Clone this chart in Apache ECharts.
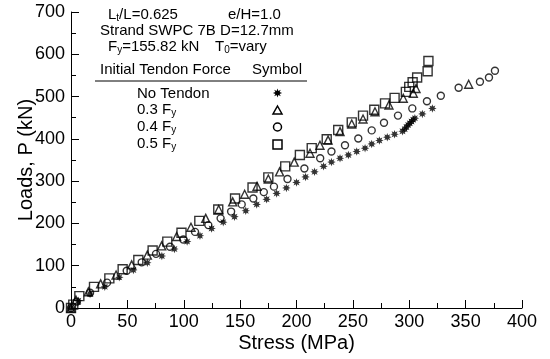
<!DOCTYPE html>
<html>
<head>
<meta charset="utf-8">
<script src="https://cdn.jsdelivr.net/npm/echarts@6/dist/echarts.min.js"></script>
<style>
html,body{margin:0;padding:0;background:#fff;}
#chart{width:550px;height:359px;}
</style>
</head>
<body>
<div id="chart"></div>
<script>
// ---- Data (Stress MPa, Load kN) ----
var noTendon = [[0,0],[6.5,17],[16.9,33],[30,50],[42.8,72.5],[55.3,90],[67.7,107],[80.6,123],[91.7,139.5],[103,157],[114.4,171],[124.7,188],[135,203],[145,216],[155,230],[164.7,245],[173.5,257],[182.4,271],[191,284],[200,297],[208,310],[216,322],[224,335],[231,345],[238.6,354],[246,362],[253.4,370],[260.8,378],[266.7,388],[273.5,396],[280.5,404],[287,411],[294,418],[296,423],[297.5,428],[299,433],[300.5,437],[302,441],[303.5,445],[305,449],[311.6,459],[320.5,472]];
var f03 = [[0,0],[4.4,19],[15.4,38.5],[26.3,57],[40,78],[53.8,102],[67.7,125],[80.4,147],[93.7,169],[106.4,191],[119.5,212],[131,233],[143.4,251],[154,269],[165,288],[175,305],[185,322],[198,345],[212,366],[220.8,385],[228,397],[238.6,417],[249,435],[259,447],[269.6,464],[282,480],[294.7,496],[303.6,508],[306,519],[352.7,529]];
var f04 = [[0,0],[5,15],[16.9,36],[32,60],[49.4,88],[62.7,108],[75.4,128],[87.8,145],[99.6,162],[110,180],[121.8,196],[132.7,212],[142,228],[151.4,245],[161.7,259],[171,274],[180,287],[192,305],[207,330],[221,354],[231,370],[243,385],[254.8,401],[266.7,420],[277.6,438],[290,455],[302.7,472],[315.7,489],[328,502],[343.8,521],[362.7,535],[370.7,545],[376,561]];
var f05 = [[0,0],[2,8],[7.4,28],[20.4,50],[34,70],[45.8,91.5],[59.7,113.5],[72.4,136],[85.4,157],[98,178],[113.8,206],[130.6,233],[145.5,259],[161,285],[175,309],[190,335],[203,362],[213.5,378],[226.8,399],[237,421],[249,439],[259,455],[269,469],[278.5,484],[287,497],[297,511],[300,523],[303,534],[307,545],[316.3,560],[317,584]];
var xTicks = [0,50,100,150,200,250,300,350,400];
var yTicks = [0,100,200,300,400,500,600,700];

var STAR = 'M20 10 L14.62 11.91 L17.07 17.07 L11.91 14.62 L10 20 L8.09 14.62 L2.93 17.07 L5.38 11.91 L0 10 L5.38 8.09 L2.93 2.93 L8.09 5.38 L10 0 L11.91 5.38 L17.07 2.93 L14.62 8.09 Z';
var FONT = '"Liberation Sans", Arial, sans-serif';

var hollow = {color:'rgba(0,0,0,0)', borderColor:'#000', borderWidth:1.4};

var rich = {
  n:{fontSize:15, fontFamily:FONT, color:'#000'},
  s:{fontSize:10, fontFamily:FONT, color:'#000', verticalAlign:'bottom', padding:[6,0,0,0]}
};
function txt(x, y, text, useRich){
  var st = {text:text, font:'15px ' + FONT, fill:'#000', verticalAlign:'middle', align:'left'};
  if (useRich) { st.rich = rich; }
  return {type:'text', x:x, y:y, style:st};
}
function starPoly(cx, cy, r){
  var pts = [];
  for (var k = 0; k < 16; k++) {
    var a = k * Math.PI / 8;
    var rr = (k % 2 === 0) ? r : r * 0.5;
    pts.push([cx + rr * Math.cos(a), cy + rr * Math.sin(a)]);
  }
  return pts;
}

var chart = echarts.init(document.getElementById('chart'), null, {renderer:'canvas'});
chart.setOption({
  backgroundColor:'#fff',
  animation:false,
  grid:{left:71, right:28, top:12, bottom:51, containLabel:false, outerBoundsMode:'none'},
  xAxis:{
    type:'value', min:xTicks[0], max:xTicks[xTicks.length-1], interval:50,
    name:'Stress (MPa)', nameLocation:'middle', nameGap:25, nameMoveOverlap:false,
    nameTextStyle:{fontSize:20, fontFamily:FONT, color:'#000'},
    axisLine:{show:true, lineStyle:{color:'#000', width:1}},
    axisTick:{show:true, inside:true, length:8, lineStyle:{color:'#000'}},
    minorTick:{show:true, splitNumber:2, length:5, lineStyle:{color:'#000'}},
    axisLabel:{fontSize:18, fontFamily:FONT, color:'#000', margin:5},
    splitLine:{show:false}
  },
  yAxis:{
    type:'value', min:yTicks[0], max:yTicks[yTicks.length-1], interval:100,
    name:'Loads, P (kN)', nameLocation:'middle', nameGap:35, nameMoveOverlap:false,
    nameTextStyle:{fontSize:20, fontFamily:FONT, color:'#000'},
    axisLine:{show:true, lineStyle:{color:'#000', width:1}},
    axisTick:{show:true, inside:true, length:8, lineStyle:{color:'#000'}},
    minorTick:{show:true, splitNumber:2, length:5, lineStyle:{color:'#000'}},
    axisLabel:{fontSize:18, fontFamily:FONT, color:'#000', margin:6},
    splitLine:{show:false}
  },
  series:[
    {name:'0.5 Fy', type:'scatter', data:f05, symbol:'rect', symbolSize:9, itemStyle:hollow},
    {name:'0.3 Fy', type:'scatter', data:f03, symbol:'triangle', symbolSize:8, itemStyle:hollow},
    {name:'0.4 Fy', type:'scatter', data:f04, symbol:'circle', symbolSize:7, itemStyle:hollow},
    {name:'No Tendon', type:'scatter', data:noTendon, symbol:'path://' + STAR, symbolSize:8.5, itemStyle:{color:'#000'}}
  ],
  graphic:[
    txt(108, 15, '{n|L}{s|t}{n|/L=0.625}', true),
    txt(228, 15, 'e/H=1.0'),
    txt(100, 31, 'Strand SWPC 7B D=12.7mm'),
    txt(108, 47, '{n|F}{s|y}{n|=155.82 kN}', true),
    txt(215, 47, '{n|T}{s|0}{n|=vary}', true),
    txt(100, 70, 'Initial Tendon Force'),
    txt(252, 70, 'Symbol'),
    {type:'line', shape:{x1:95, y1:81, x2:307, y2:81}, style:{stroke:'#000', lineWidth:1}},
    txt(137, 94, 'No Tendon'),
    txt(137, 110, '{n|0.3 F}{s|y}', true),
    txt(137, 127, '{n|0.4 F}{s|y}', true),
    txt(137, 144, '{n|0.5 F}{s|y}', true),
    {type:'polygon', shape:{points:starPoly(277.5, 93, 4.6)}, style:{fill:'#000'}},
    {type:'polygon', shape:{points:[[277.5,106],[282,114],[273,114]]}, style:{fill:'none', stroke:'#000', lineWidth:1.5}},
    {type:'circle', shape:{cx:277.5, cy:127, r:4}, style:{fill:'none', stroke:'#000', lineWidth:1.5}},
    {type:'rect', shape:{x:273, y:140, width:9, height:9}, style:{fill:'none', stroke:'#000', lineWidth:1.5}}
  ]
});
</script>
</body>
</html>
